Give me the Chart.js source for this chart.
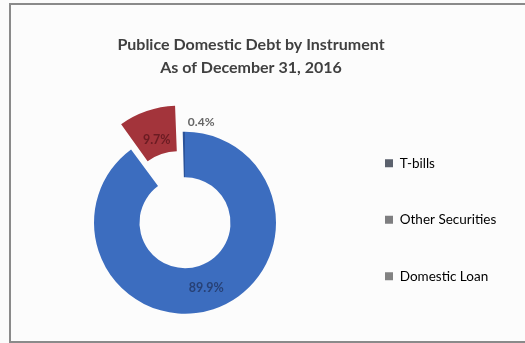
<!DOCTYPE html>
<html>
<head>
<meta charset="utf-8">
<script src="https://cdn.jsdelivr.net/npm/chart.js@4/dist/chart.umd.min.js"></script>
<style>
  html, body { margin: 0; padding: 0; background: #fbfbfb; width: 525px; height: 343px; overflow: hidden; }
  #frame { position: absolute; left: 9px; top: 3px; width: 530px; height: 336px; border: 2px solid #8a8a8a; background: #fcfcfc; box-sizing: content-box; }
  #c { display: block; }
</style>
</head>
<body>
<div id="frame"><canvas id="c" width="520" height="336"></canvas></div>
<script>
const titleLines = ["Publice Domestic Debt by Instrument", "As of December 31, 2016"];
const categories = ["T-bills", "Other Securities", "Domestic Loan"];
const shares = [89.9, 9.7, 0.4];
const valueLabels = ["89.9%", "9.7%", "0.4%"];
const sliceColors = ["#3c6dbf", "#a3343b", "#2b539a"];
const legendBoxColors = ["#5b616d", "#7e7e80", "#828282"];
const explode = [0, 76, 0];

const labelPlugin = {
  id: 'sliceLabels',
  afterDatasetsDraw(chart) {
    const ctx = chart.ctx;
    const meta = chart.getDatasetMeta(0);
    ctx.save();
    meta.data.forEach((arc, i) => {
      const p = arc.getProps(['x','y','startAngle','endAngle','innerRadius','outerRadius'], true);
      const mid = (p.startAngle + p.endAngle) / 2;
      const shift = explode[i] / 4;
      if (i === 2) {
        const r = p.outerRadius;
        const x = p.x + Math.cos(mid) * r;
        const y = p.y + Math.sin(mid) * r;
        ctx.font = 'bold 12px Lato, "Open Sans", sans-serif';
        ctx.fillStyle = '#666666';
        ctx.textAlign = 'left';
        ctx.textBaseline = 'middle';
        ctx.fillText(valueLabels[i], x + 4, y - 10);
      } else {
        const r = (p.innerRadius + p.outerRadius) / 2 + shift;
        const x = p.x + Math.cos(mid) * r;
        const y = p.y + Math.sin(mid) * r;
        ctx.font = 'bold 12.5px Lato, "Open Sans", sans-serif';
        ctx.fillStyle = i === 0 ? 'rgba(30,45,85,0.7)' : 'rgba(70,12,18,0.6)';
        ctx.textAlign = 'center';
        ctx.textBaseline = 'middle';
        ctx.fillText(valueLabels[i], x, y);
      }
    });
    ctx.restore();
  }
};

const boxPlugin = {
  id: 'boxTweaks',
  beforeInit(chart) {
    const orig = chart.legend.fit;
    chart.legend.fit = function () {
      orig.call(this);
      this.width = 161;
    };
  },
  afterLayout(chart) {
    const t = chart.titleBlock;
    t.left = 17;
    t.right = 463;
  }
};

new Chart(document.getElementById('c'), {
  type: 'doughnut',
  data: {
    labels: categories,
    datasets: [{
      data: shares,
      backgroundColor: sliceColors,
      borderWidth: 0,
      offset: explode
    }]
  },
  plugins: [labelPlugin, boxPlugin],
  options: {
    responsive: false,
    animation: false,
    cutout: '50%',
    radius: 91,
    layout: { padding: { left: 17, right: 28, top: 0, bottom: 15 } },
    plugins: {
      tooltip: { enabled: false },
      title: {
        display: true,
        text: titleLines,
        color: '#404040',
        font: { family: 'Lato, "Open Sans", sans-serif', size: 16, weight: 'bold', lineHeight: 1.45 },
        padding: { top: 28, bottom: 40 }
      },
      legend: {
        position: 'right',
        align: 'end',
        labels: {
          boxWidth: 8,
          boxHeight: 8,
          padding: 43,
          color: '#595959',
          font: { family: 'Lato, "Open Sans", sans-serif', size: 13.5 },
          generateLabels(chart) {
            return categories.map((c, i) => ({
              text: c,
              fillStyle: legendBoxColors[i],
              strokeStyle: legendBoxColors[i],
              lineWidth: 0,
              hidden: false,
              index: i
            }));
          }
        }
      }
    }
  }
});
</script>
</body>
</html>
